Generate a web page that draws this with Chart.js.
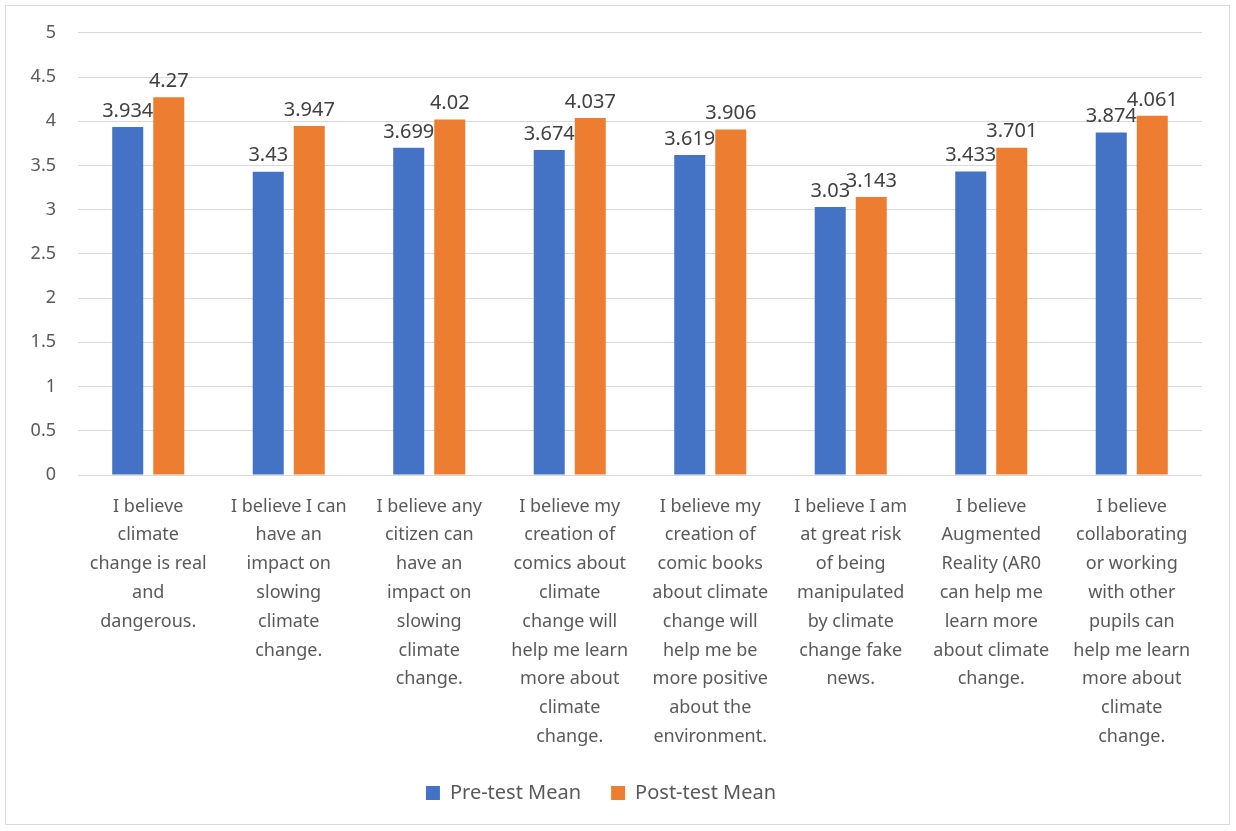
<!DOCTYPE html>
<html>
<head>
<meta charset="utf-8">
<script src="https://cdn.jsdelivr.net/npm/chart.js@4/dist/chart.umd.min.js"></script>
<style>
  body { margin: 0; background: #fff; }
  #wrap { position: relative; width: 1236px; height: 831px; }
  #frame { position: absolute; left: 5px; top: 5px; width: 1223px; height: 818px; border: 1px solid #d9d9d9; pointer-events: none; }
</style>
</head>
<body>
<div id="wrap">
  <canvas id="chart" width="1236" height="831"></canvas>
  <div id="frame"></div>
</div>
<script>
// Datos de la gráfica
const categories = [
    ['I believe', 'climate', 'change is real', 'and', 'dangerous.'],
    ['I believe I can', 'have an', 'impact on', 'slowing', 'climate', 'change.'],
    ['I believe any', 'citizen can', 'have an', 'impact on', 'slowing', 'climate', 'change.'],
    ['I believe my', 'creation of', 'comics about', 'climate', 'change will', 'help me learn', 'more about', 'climate', 'change.'],
    ['I believe my', 'creation of', 'comic books', 'about climate', 'change will', 'help me be', 'more positive', 'about the', 'environment.'],
    ['I believe I am', 'at great risk', 'of being', 'manipulated', 'by climate', 'change fake', 'news.'],
    ['I believe', 'Augmented', 'Reality (AR0', 'can help me', 'learn more', 'about climate', 'change.'],
    ['I believe', 'collaborating', 'or working', 'with other', 'pupils can', 'help me learn', 'more about', 'climate', 'change.']
];
const preTestMean = [3.934, 3.43, 3.699, 3.674, 3.619, 3.03, 3.433, 3.874];
const postTestMean = [4.27, 3.947, 4.02, 4.037, 3.906, 3.143, 3.701, 4.061];
const yTicks = [0, 0.5, 1, 1.5, 2, 2.5, 3, 3.5, 4, 4.5, 5];

const FONT = 'Noto Sans';

// Plugin para dibujar los valores encima de las barras
const valueLabels = {
    id: 'valueLabels',
    afterDatasetsDraw(chart) {
        const ctx = chart.ctx;
        ctx.save();
        ctx.font = '20px "' + FONT + '"';
        ctx.fillStyle = '#404040';
        ctx.textAlign = 'center';
        ctx.textBaseline = 'bottom';
        chart.data.datasets.forEach((ds, i) => {
            chart.getDatasetMeta(i).data.forEach((bar, j) => {
                ctx.fillText(String(ds.data[j]), bar.x, bar.y - 6);
            });
        });
        ctx.restore();
    }
};

new Chart(document.getElementById('chart').getContext('2d'), {
    type: 'bar',
    data: {
        labels: categories,
        datasets: [
            { label: 'Pre-test Mean', data: preTestMean, backgroundColor: '#4472C4' },
            { label: 'Post-test Mean', data: postTestMean, backgroundColor: '#ED7D31' }
        ]
    },
    options: {
        responsive: false,
        animation: false,
        categoryPercentage: 0.584,
        barPercentage: 0.756,
        layout: { padding: { top: 26, right: 34, bottom: 18, left: 0 } },
        plugins: {
            legend: {
                position: 'bottom',
                labels: {
                    font: { family: FONT, size: 20 },
                    color: '#595959',
                    boxWidth: 14,
                    boxHeight: 14,
                    padding: 30
                }
            },
            tooltip: { enabled: false }
        },
        scales: {
            x: {
                grid: { display: false },
                border: { display: false },
                ticks: {
                    autoSkip: false,
                    maxRotation: 0,
                    padding: 9,
                    color: '#595959',
                    font: { family: FONT, size: 18, lineHeight: 1.6 }
                },
                afterFit(scale) { scale.height = 278; }
            },
            y: {
                min: 0,
                max: 5,
                afterBuildTicks(scale) { scale.ticks = yTicks.map(v => ({ value: v })); },
                grid: { color: '#d9d9d9', drawTicks: false },
                border: { display: false },
                ticks: {
                    color: '#595959',
                    padding: 22,
                    font: { family: FONT, size: 18 },
                    callback: v => String(v)
                },
                afterFit(scale) { scale.width = 78; }
            }
        }
    },
    plugins: [valueLabels]
});
</script>
</body>
</html>
